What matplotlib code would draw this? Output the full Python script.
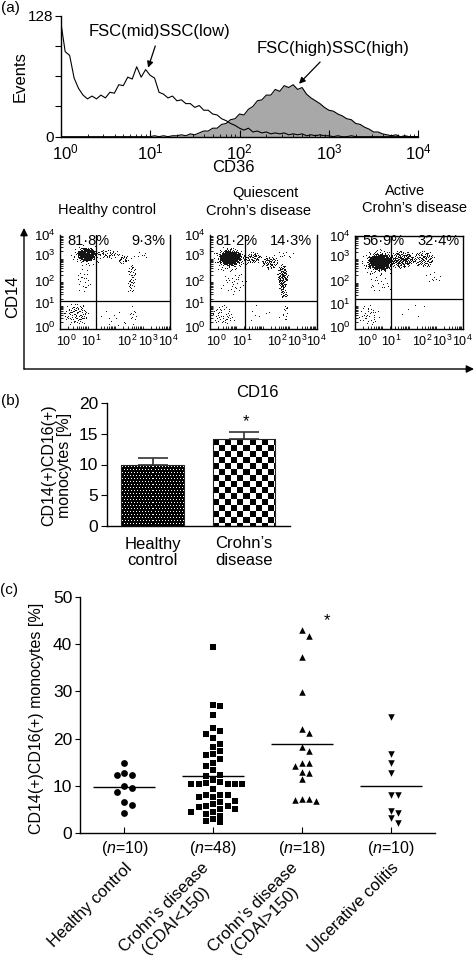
import numpy as np
import matplotlib
matplotlib.use("Agg")
import matplotlib.pyplot as plt
import matplotlib.transforms as mtransforms
from matplotlib.patches import FancyArrowPatch

plt.rcParams['font.family'] = ['Liberation Sans', 'DejaVu Sans']
plt.rcParams['mathtext.fontset'] = 'custom'
plt.rcParams['mathtext.rm'] = 'Liberation Sans'
plt.rcParams['mathtext.it'] = 'Liberation Sans:italic'
plt.rcParams['mathtext.bf'] = 'Liberation Sans:bold'
plt.rcParams['axes.linewidth'] = 1.0

# ---- (a) CD36 histogram (log10 channel, events)
cd36_log = np.round(np.arange(0, 4.0001, 0.05), 2)
events_mid = [122, 90, 86, 62, 51, 44, 40, 43, 40, 44, 41, 47, 46, 55, 54, 63, 61, 74, 63, 71,
              65, 62, 47, 45, 41, 43, 38, 39, 35, 35, 31, 33, 28, 28, 24, 23, 19, 17, 14, 12,
              9, 7, 9, 5, 6, 4, 5, 3, 4, 3, 4, 2, 3, 2, 3, 1, 2, 1, 2, 1,
              1, 0, 1, 0, 0, 1, 0, 0, 0, 0, 0, 0, 0, 0, 0, 0, 0, 0, 0, 0, 0]
events_high = [0, 0, 0, 0, 0, 0, 0, 0, 0, 0, 0, 0, 0, 0, 0, 0, 0, 0, 0, 0,
               0, 1, 0, 1, 0, 1, 1, 2, 1, 3, 2, 4, 6, 6, 9, 9, 13, 14, 18, 19,
               24, 23, 29, 32, 38, 39, 44, 44, 50, 48, 54, 52, 55, 50, 52, 45, 41, 38, 35, 31,
               28, 27, 24, 22, 19, 18, 14, 13, 10, 8, 5, 5, 3, 2, 1, 2, 0, 1, 0, 0, 0]

# ---- (a) CD14/CD16 dot plots: event clouds (x, y, rx, ry, n) in decade units
dot_titles = [['Healthy control'], ['Quiescent', 'Crohn’s disease'], ['Active', 'Crohn’s disease']]
clouds = [
    [(0.95, 3.15, 0.37, 0.30, 430), (0.95, 3.10, 0.62, 0.47, 70), (1.75, 3.15, 0.45, 0.22, 45),
     (2.30, 2.95, 0.25, 0.22, 25), (2.60, 2.10, 0.18, 0.70, 45), (0.85, 2.10, 0.30, 0.60, 22),
     (0.60, 0.60, 0.50, 0.50, 90), (2.65, 0.60, 0.12, 0.50, 10), (2.00, 0.50, 0.70, 0.45, 12),
     (2.90, 3.10, 0.40, 0.20, 8)],
    [(0.75, 3.00, 0.45, 0.35, 520), (0.75, 2.95, 0.72, 0.58, 120), (1.60, 3.00, 0.40, 0.27, 70),
     (2.25, 2.80, 0.35, 0.30, 70), (2.75, 2.15, 0.22, 0.65, 130), (2.80, 1.45, 0.15, 0.20, 20),
     (0.90, 1.90, 0.55, 0.55, 30), (0.50, 0.55, 0.50, 0.45, 45), (2.85, 0.75, 0.15, 0.45, 12),
     (2.00, 0.60, 0.70, 0.50, 8), (2.80, 3.15, 0.45, 0.20, 10)],
    [(0.92, 2.85, 0.50, 0.38, 540), (0.90, 2.85, 0.72, 0.62, 140), (1.75, 2.95, 0.50, 0.40, 200),
     (2.55, 2.95, 0.45, 0.38, 110), (0.90, 1.90, 0.50, 0.45, 18), (0.50, 0.60, 0.45, 0.50, 35),
     (2.90, 2.20, 0.40, 0.35, 10), (2.20, 0.80, 0.80, 0.50, 6)],
]
gate_x = [1.31, 1.31, 1.34]
gate_y = [1.20, 1.21, 1.31]
pct_left = ['81·8%', '81·2%', '56·9%']
pct_right = ['9·3%', '14·3%', '32·4%']
decade_labels = [r'$10^{0}$', r'$10^{1}$', r'$10^{2}$', r'$10^{3}$', r'$10^{4}$']

# ---- (b) bar chart
bar_groups = ['Healthy\ncontrol', 'Crohn’s\ndisease']
bar_mean = [9.9, 14.2]
bar_sem = [1.1, 1.1]

# ---- (c) individual patients
groups_n = ['($\\mathit{n}$=10)', '($\\mathit{n}$=48)', '($\\mathit{n}$=18)', '($\\mathit{n}$=10)']
groups_name = ['Healthy control', 'Crohn’s disease\n(CDAI<150)', 'Crohn’s disease\n(CDAI>150)',
               'Ulcerative colitis']
healthy = [14.8, 12.8, 12.3, 12.3, 10.0, 9.6, 8.8, 6.6, 6.0, 4.2]
cd_quiet = [39.4, 27.1, 26.9, 25.0, 22.3, 21.7, 21.0, 20.1, 18.8, 18.3, 17.3, 16.8, 16.6, 15.6,
            14.9, 14.3, 13.4, 12.3, 12.2, 11.2, 10.8, 10.6, 10.4, 10.4, 10.4, 10.4, 10.4, 9.3,
            8.1, 8.0, 8.0, 7.7, 7.7, 6.9, 6.6, 6.2, 5.8, 5.7, 5.5, 5.2, 5.2, 4.6, 4.6, 4.1,
            3.7, 3.1, 2.5, 2.3]
cd_active = [43.0, 41.8, 37.2, 29.9, 22.0, 21.1, 18.3, 17.3, 14.8, 14.8, 14.3, 13.0, 12.8,
             11.5, 7.3, 7.2, 7.0, 6.9]
uc = [24.5, 16.8, 14.9, 12.7, 8.1, 8.1, 4.7, 4.2, 3.2, 2.1]

W, H = 475, 969
fig = plt.figure(figsize=(W / 100, H / 100), dpi=100)


def box(l, t, r, b):
    return [l / W, 1 - b / H, (r - l) / W, (b - t) / H]


def fpos(x, y):
    return x / W, 1 - y / H


def halton(i, b):
    f, r = 1.0, 0.0
    while i > 0:
        f /= b
        r += f * (i % b)
        i //= b
    return r


def cloud_points(xc, yc, rx, ry, n, start):
    # low-discrepancy fill of an ellipse, a bit denser towards the middle
    xs, ys = [], []
    i = start
    while len(xs) < n:
        i += 1
        u = 2 * halton(i, 2) - 1
        v = 2 * halton(i, 3) - 1
        if u * u + v * v <= 0.3 + 0.7 * halton(i, 5):
            xs.append(xc + rx * u)
            ys.append(yc + ry * v)
    return xs, ys, i


def swarm(values, gap, step):
    placed, offs = [], []
    order = [0]
    for j in range(1, 10):
        order += [j, -j]
    for v in values:
        for s in order:
            if all(abs(v - pv) >= gap for ps, pv in placed if ps == s):
                break
        placed.append((s, v))
        offs.append(s * step)
    return np.array(offs)


# ================= (a) histogram
ax_h = fig.add_axes(box(60.7, 15.7, 418.3, 136.7))
x = 10 ** cd36_log
ax_h.fill_between(x, events_high, color='#a8a8a8', lw=0)
ax_h.plot(x, events_high, color='k', lw=0.8)
ax_h.plot(x, events_mid, color='k', lw=0.8)
ax_h.set_xscale('log')
ax_h.set_xlim(1, 1e4)
ax_h.set_ylim(0, 128)
ax_h.spines[['top', 'right']].set_visible(False)
ax_h.set_yticks([0, 32, 64, 96, 128], ['0', '', '', '', '128'])
ax_h.tick_params(axis='y', direction='out', length=4, labelsize=11, pad=1)
ax_h.set_xticks([1, 10, 100, 1000, 10000], decade_labels)
ax_h.set_xticks([d * k for d in [1, 10, 100, 1000] for k in range(2, 10)], minor=True)
ax_h.tick_params(axis='x', which='major', direction='in', length=5, labelsize=12, pad=4)
ax_h.tick_params(axis='x', which='minor', direction='in', length=2.5, labelbottom=False)
first = ax_h.get_xticklabels()[0]
first.set_transform(first.get_transform() +
                    mtransforms.ScaledTranslation(0.05, 0, fig.dpi_scale_trans))
ax_h.annotate('FSC(mid)SSC(low)', xy=(9.5, 73), xytext=(12.9, 111), ha='center', va='center',
              fontsize=12, arrowprops=dict(arrowstyle='-|>', color='k', lw=0.9,
                                           mutation_scale=9, shrinkA=3, shrinkB=0))
ax_h.annotate('FSC(high)SSC(high)', xy=(463, 56), xytext=(1111, 93), ha='center', va='center',
              fontsize=12, arrowprops=dict(arrowstyle='-|>', color='k', lw=0.9,
                                           mutation_scale=9, shrinkA=3, shrinkB=0))
fig.text(*fpos(20, 77), 'Events', rotation=90, ha='center', va='center', fontsize=12)
fig.text(*fpos(233, 168), 'CD36', ha='center', va='center', fontsize=12)
fig.text(*fpos(10, 8), '(a)', ha='center', va='center', fontsize=11)

# ================= (a) dot plots
dot_boxes = [(60, 235, 170, 329.3), (210, 235, 316.7, 329.3), (355, 235.7, 462.7, 329.3)]
xlab_pos = [[0.24, 1.15, 2.45, 3.2, 3.95], [0.25, 1.24, 2.55, 3.3, 4.05],
            [0.45, 1.35, 2.5, 3.25, 4.0]]
ylab_pos = [0.1, 1.1, 2.05, 3.15, 4.0]
minor_pos = [u + np.log10(k) for u in range(4) for k in range(1, 10)] + [4]
title_pos = [[(107, 210)], [(265, 193), (259, 211)], [(405, 191), (415, 208)]]
pct_pos = [(67, 165), (215, 312), (362, 460)]
for p in range(3):
    ax = fig.add_axes(box(*dot_boxes[p]))
    start = 0
    for (xc, yc, rx, ry, n) in clouds[p]:
        xs, ys, start = cloud_points(xc, yc, rx, ry, n, start)
        ax.plot(xs, ys, ',', color='#151515')
    ax.axvline(gate_x[p], color='k', lw=0.9)
    ax.axhline(gate_y[p], color='k', lw=0.9)
    ax.set_xlim(0, 4)
    ax.set_ylim(0, 4)
    if p < 2:
        ax.spines['top'].set_visible(False)
    ax.set_xticks(xlab_pos[p], decade_labels)
    ax.set_yticks(ylab_pos, decade_labels)
    ax.set_xticks(minor_pos, minor=True)
    ax.set_yticks(minor_pos, minor=True)
    ax.tick_params(which='major', length=0, labelsize=9.5, pad=3)
    ax.tick_params(axis='x', which='major', labelsize=9)
    ax.tick_params(which='minor', direction='in', length=2.5, width=0.6)
    for (tx, ty), line in zip(title_pos[p], dot_titles[p]):
        fig.text(*fpos(tx, ty), line, ha='center', va='center', fontsize=10.5)
    fig.text(*fpos(pct_pos[p][0], 241), pct_left[p], ha='left', va='center', fontsize=10.5)
    fig.text(*fpos(pct_pos[p][1], 241), pct_right[p], ha='right', va='center', fontsize=10.5)

fig.add_artist(FancyArrowPatch(fpos(24, 369), fpos(24, 228), transform=fig.transFigure,
                               arrowstyle='-|>', mutation_scale=11, lw=1, color='k',
                               shrinkA=0, shrinkB=0))
fig.add_artist(FancyArrowPatch(fpos(24, 369), fpos(474, 369), transform=fig.transFigure,
                               arrowstyle='-|>', mutation_scale=11, lw=1, color='k',
                               shrinkA=0, shrinkB=0))
fig.text(*fpos(13, 297), 'CD14', rotation=90, ha='center', va='center', fontsize=12)
fig.text(*fpos(257, 392), 'CD16', ha='center', va='center', fontsize=12)

# ================= (b) bars
ax_b = fig.add_axes(box(106.7, 403.3, 290, 525.7))
ax_b.set_xlim(-0.5, 1.5)
ax_b.set_ylim(0, 20)
bw = 0.68
ax_b.bar(range(2), bar_mean, width=bw, facecolor='none', edgecolor='#222', lw=0.8, zorder=3)
for i, m in enumerate(bar_mean):
    p0 = ax_b.transData.transform((i - bw / 2, 0))
    p1 = ax_b.transData.transform((i + bw / 2, m))
    w = int(round(p1[0] - p0[0]))
    h = int(round(p1[1] - p0[1]))
    rr, cc = np.mgrid[0:h, 0:w]
    if i == 0:
        tex = ((rr % 3 == 1) & ((cc + (rr // 3) % 2) % 3 == 1)).astype(float)
    else:
        tex = ((rr // 6 + cc // 6) % 2).astype(float)
    ax_b.imshow(tex, cmap='gray', vmin=0, vmax=1, extent=(i - bw / 2, i + bw / 2, 0, m),
                aspect='auto', interpolation='nearest', zorder=2)
ax_b.errorbar(range(2), bar_mean, yerr=[[0, 0], bar_sem], fmt='none', ecolor='#333',
              elinewidth=1.2, capsize=10.5, capthick=1.2, zorder=4)
ax_b.set_xlim(-0.5, 1.5)
ax_b.set_ylim(0, 20)
ax_b.text(1.02, 16.2, '*', ha='center', va='baseline', fontsize=12)
ax_b.spines[['top', 'right']].set_visible(False)
ax_b.set_xticks([])
ax_b.set_yticks([0, 5, 10, 15, 20])
ax_b.tick_params(axis='y', direction='out', length=4, labelsize=12.5, pad=2)
for i, g in enumerate(bar_groups):
    fig.text(*fpos([152.5, 243.8][i], 552.4), g, ha='center', va='center', fontsize=12,
             linespacing=1.15)
fig.text(*fpos(56.5, 465), 'CD14(+)CD16(+)\nmonocytes [%]', rotation=90, ha='center',
         va='center', fontsize=11.5, linespacing=1.0)
fig.text(*fpos(10, 401), '(b)', ha='center', va='center', fontsize=11)

# ================= (c) scatter
ax_c = fig.add_axes(box(80, 596.7, 435, 833.3))
series = [healthy, cd_quiet, cd_active, uc]
markers = ['o', 's', '^', 'v']
sizes = [24, 24, 22, 22]
for i, vals in enumerate(series):
    vals = np.array(vals)
    order = np.argsort(-vals, kind='stable')
    v = vals[order]
    xo = swarm(v, 1.35, 0.082)
    ax_c.scatter(i + 1 + xo, v, marker=markers[i], s=sizes[i], color='k', lw=0, zorder=3)
    ax_c.hlines(np.mean(vals), i + 1 - 0.35, i + 1 + 0.35, color='k', lw=1)
ax_c.text(3.28, 43.9, '*', ha='center', va='baseline', fontsize=12)
ax_c.set_xlim(0.5, 4.5)
ax_c.set_ylim(0, 50)
ax_c.spines[['top', 'right']].set_visible(False)
ax_c.set_yticks(range(0, 51, 10))
ax_c.tick_params(axis='y', direction='out', length=3.5, labelsize=12.5, pad=2)
ax_c.set_xticks([1, 2, 3, 4], groups_n)
ax_c.tick_params(axis='x', direction='in', length=4, labelsize=11.5, pad=4)
blend = mtransforms.blended_transform_factory(ax_c.transData, ax_c.transAxes)
for i, name in enumerate(groups_name):
    ax_c.text(i + 1 + 0.12, -0.115, name, transform=blend, rotation=45, ha='right', va='top',
              multialignment='center', fontsize=12)
fig.text(*fpos(37, 718), 'CD14(+)CD16(+) monocytes [%]', rotation=90, ha='center',
         va='center', fontsize=11.5)
fig.text(*fpos(9, 590), '(c)', ha='center', va='center', fontsize=11)

fig.savefig('out.png', dpi=100)
